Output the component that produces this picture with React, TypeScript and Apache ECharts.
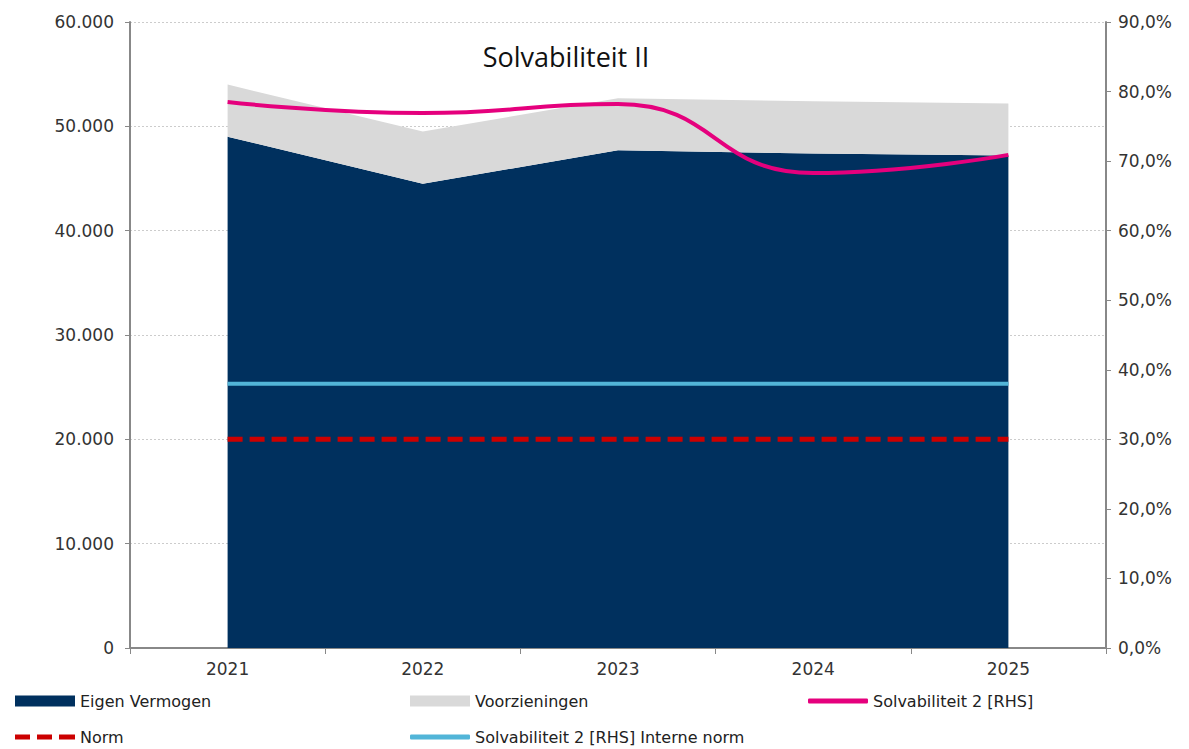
import React, { useEffect, useRef } from "react";
import * as echarts from "echarts";

const years = ["2021", "2022", "2023", "2024", "2025"];
const eigenVermogen = [49000, 44500, 47700, 47400, 47200];
const voorzieningen = [5000, 5000, 5000, 5000, 5000];
const solvabiliteit = [78.5, 76.9, 78.2, 68.3, 70.9];
const norm = [30, 30, 30, 30, 30];
const interneNorm = [38, 38, 38, 38, 38];

const leftTicks = { min: 0, max: 60000, interval: 10000 };
const rightTicks = { min: 0, max: 90, interval: 10 };

const FONT = "DejaVu Sans";
const DASH_ICON = "path://M0,0h15v5h-15z M22,0h15v5h-15z M44,0h16v5h-16z";

export default function App() {
  const ref = useRef<HTMLDivElement>(null);
  useEffect(() => {
    const chart = echarts.init(ref.current!, null, { renderer: "svg" });
    const legendText = { fontFamily: FONT, fontSize: 16, color: "#222" };
    const mkLegend = (name: string, left: number, top: number, icon: string, h: number) => ({
      data: [{ name, icon }],
      left,
      top,
      padding: 0,
      itemWidth: 60,
      itemHeight: h,
      itemGap: 5,
      textStyle: legendText,
      selectedMode: false,
    });
    chart.setOption({
      animation: false,
      backgroundColor: "#fff",
      title: {
        text: "Solvabiliteit II",
        left: 561,
        top: 38,
        textAlign: "center",
        textStyle: { fontFamily: "Open Sans", fontSize: 27, fontWeight: "normal", color: "#111" },
      },
      grid: { left: 130, right: 83, top: 22, bottom: 101 },
      legend: [
        mkLegend("Eigen Vermogen", 15, 693, "rect", 11),
        mkLegend("Voorzieningen", 410, 693, "rect", 11),
        mkLegend("Solvabiliteit 2 [RHS]", 808, 693, "roundRect", 5),
        mkLegend("Norm", 15, 729, DASH_ICON, 5),
        mkLegend("Solvabiliteit 2 [RHS] Interne norm", 410, 729, "roundRect", 5),
      ],
      xAxis: {
        type: "category",
        data: years,
        boundaryGap: true,
        axisLine: { lineStyle: { color: "#888", width: 2 } },
        axisTick: { show: true, length: 6, lineStyle: { color: "#888" } },
        axisLabel: { fontFamily: FONT, fontSize: 17, color: "#333", margin: 12 },
      },
      yAxis: [
        {
          type: "value",
          ...leftTicks,
          axisLine: { show: true, lineStyle: { color: "#888", width: 2 } },
          axisTick: { show: true, inside: false, length: 5, lineStyle: { color: "#888" } },
          axisLabel: {
            fontFamily: FONT,
            fontSize: 17,
            color: "#333",
            margin: 16,
            formatter: (v: number) => (v === 0 ? "0" : (v / 1000).toFixed(0) + ".000"),
          },
          splitLine: { show: true, lineStyle: { color: "#ccc", type: [2, 2], width: 1 } },
        },
        {
          type: "value",
          ...rightTicks,
          position: "right",
          axisLine: { show: true, lineStyle: { color: "#888", width: 2 } },
          axisTick: { show: true, length: 5, lineStyle: { color: "#888" } },
          axisLabel: {
            fontFamily: FONT,
            fontSize: 17,
            color: "#333",
            margin: 12,
            formatter: (v: number) => v.toFixed(1).replace(".", ",") + "%",
          },
          splitLine: { show: false },
        },
      ],
      series: [
        {
          name: "Eigen Vermogen",
          type: "line",
          stack: "total",
          data: eigenVermogen,
          symbol: "none",
          itemStyle: { color: "#00305e" },
          lineStyle: { width: 0 },
          areaStyle: { color: "#00305e", opacity: 1 },
          z: 1,
        },
        {
          name: "Voorzieningen",
          type: "line",
          stack: "total",
          data: voorzieningen,
          symbol: "none",
          itemStyle: { color: "#d9d9d9" },
          lineStyle: { width: 0 },
          areaStyle: { color: "#d9d9d9", opacity: 1 },
          z: 1,
        },
        {
          name: "Solvabiliteit 2 [RHS]",
          type: "line",
          yAxisIndex: 1,
          data: solvabiliteit,
          smooth: 0.5,
          symbol: "none",
          itemStyle: { color: "#e5007d" },
          lineStyle: { color: "#e5007d", width: 4 },
          z: 5,
        },
        {
          name: "Norm",
          type: "line",
          yAxisIndex: 1,
          data: norm,
          symbol: "none",
          itemStyle: { color: "#cc0000" },
          lineStyle: { color: "#cc0000", width: 5, type: [15, 7] },
          z: 4,
        },
        {
          name: "Solvabiliteit 2 [RHS] Interne norm",
          type: "line",
          yAxisIndex: 1,
          data: interneNorm,
          symbol: "none",
          itemStyle: { color: "#52b5d8" },
          lineStyle: { color: "#52b5d8", width: 4 },
          z: 4,
        },
      ],
    });
    return () => chart.dispose();
  }, []);
  return (
    <div
      ref={ref}
      style={{ position: "absolute", left: 0, top: 0, width: 1189, height: 749 }}
    />
  );
}
